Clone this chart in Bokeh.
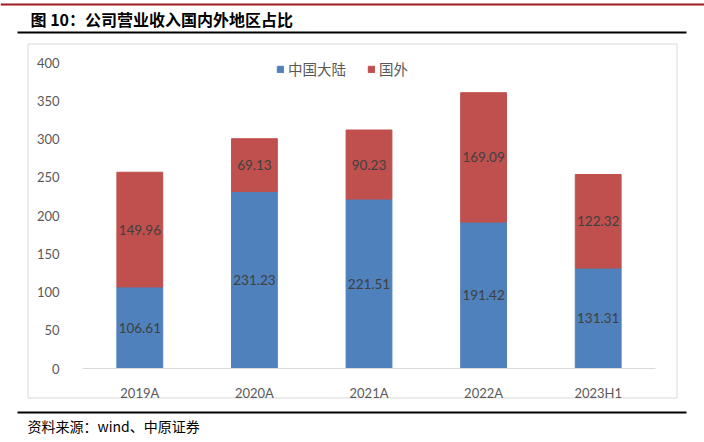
from bokeh.plotting import figure
from bokeh.models import ColumnDataSource, Legend, LegendItem, Range1d, FixedTicker
from bokeh.core.properties import value
from bokeh.embed import file_html
from bokeh.resources import INLINE

categories = ["2019A", "2020A", "2021A", "2022A", "2023H1"]
mainland = [106.61, 231.23, 221.51, 191.42, 131.31]
overseas = [149.96, 69.13, 90.23, 169.09, 122.32]
y_ticks = [0, 50, 100, 150, 200, 250, 300, 350, 400]
series_names = ["中国大陆", "国外"]
title_text = "图 10：公司营业收入国内外地区占比"
source_text = "资料来源：wind、中原证券"

BLUE = "#4F81BD"
RED = "#C0504D"
W, H = 704, 442
FONT = "Lato"
CJK = "Noto Sans CJK SC"

# pixel layout of the plot area (page coordinates)
PX_LEFT, PX_RIGHT = 82.0, 655.0      # category axis extent
PX_ZERO, PX_400 = 368.0, 62.0        # y = 0 and y = 400
n = len(categories)
cat_w = (PX_RIGHT - PX_LEFT) / n
first_c = PX_LEFT + cat_w / 2
ppu = (PX_ZERO - PX_400) / 400.0

x_start = (0 - first_c) / cat_w
x_end = (W - first_c) / cat_w
y_start = -(H - PX_ZERO) / ppu
y_end = PX_ZERO / ppu

idx = list(range(n))
total = [a + b for a, b in zip(mainland, overseas)]
mid1 = [a / 2 for a in mainland]
mid2 = [a + b / 2 for a, b in zip(mainland, overseas)]
src = ColumnDataSource(dict(
    x=idx, mainland=mainland, overseas=overseas, total=total,
    mid1=mid1, mid2=mid2,
    lab1=[f"{v:.2f}" for v in mainland], lab2=[f"{v:.2f}" for v in overseas],
))

p = figure(width=W, height=H, x_range=Range1d(x_start, x_end), y_range=Range1d(y_start, y_end),
           output_backend="svg", toolbar_location=None, title=None,
           min_border=0, min_border_left=0, min_border_right=0,
           min_border_top=0, min_border_bottom=0)
p.outline_line_color = None
p.xgrid.grid_line_color = None
p.ygrid.grid_line_color = None
p.background_fill_color = "white"
p.border_fill_color = "white"

# page-pixel coordinate system for decorations
p.extra_x_ranges = {"px": Range1d(0, W)}
p.extra_y_ranges = {"px": Range1d(H, 0)}
PX = dict(x_range_name="px", y_range_name="px")

# decorations
p.quad(left=[0], right=[W], top=[3], bottom=[5], fill_color="#9E1B20", line_color=None, **PX)
p.text(x=[30], y=[18.5], text=[title_text], text_font=value(CJK), text_font_size="16px",
       text_font_style="bold", text_color="#000000", text_baseline="middle", **PX)
p.quad(left=[17], right=[686], top=[31], bottom=[33], fill_color="#000000", line_color=None, **PX)
p.quad(left=[27.5], right=[676.5], top=[43.5], bottom=[397.5], fill_alpha=0,
       line_color="#D9D9D9", line_width=1, **PX)
p.quad(left=[17], right=[686], top=[411], bottom=[413], fill_color="#000000", line_color=None, **PX)
p.text(x=[27], y=[425], text=[source_text], text_font=value(CJK), text_font_size="14px",
       text_color="#000000", text_baseline="middle", **PX)

# bars
r1 = p.vbar(x="x", width=0.4, bottom=0, top="mainland", source=src,
            fill_color=BLUE, line_color=BLUE)
r2 = p.vbar(x="x", width=0.4, bottom="mainland", top="total", source=src,
            fill_color=RED, line_color=RED)

for col, lab in (("mid1", "lab1"), ("mid2", "lab2")):
    p.text(x="x", y=col, text=lab, source=src, text_align="center", text_baseline="middle",
           text_font=value(FONT), text_font_size="13.5px", text_color="#404040")

ax = p.xaxis[0]
ax.fixed_location = 0
ax.bounds = (-0.5, n - 0.5)
ax.ticker = FixedTicker(ticks=idx)
ax.major_label_overrides = {i: c for i, c in zip(idx, categories)}
ax.axis_line_color = "#D9D9D9"
ax.axis_line_width = 1
ax.major_tick_line_color = None
ax.minor_tick_line_color = None
ax.major_label_text_color = "#595959"
ax.major_label_text_font = FONT
ax.major_label_text_font_size = "13px"
ax.major_label_standoff = 10

ay = p.yaxis[0]
ay.fixed_location = -0.5
ay.bounds = (0, 400)
ay.ticker = FixedTicker(ticks=y_ticks)
ay.axis_line_color = None
ay.major_tick_line_color = None
ay.minor_tick_line_color = None
ay.major_label_text_color = "#595959"
ay.major_label_text_font = FONT
ay.major_label_text_font_size = "13px"
ay.major_label_standoff = 17

legend = Legend(items=[LegendItem(label=series_names[0], renderers=[r1]),
                       LegendItem(label=series_names[1], renderers=[r2])],
                orientation="horizontal", location=(276, 363), padding=0, margin=0,
                spacing=21, label_standoff=4, glyph_width=8, glyph_height=8,
                label_text_font=CJK, label_text_font_size="14.5px", label_text_color="#595959",
                border_line_color=None, background_fill_alpha=0)
p.add_layout(legend)

open("out.html", "w").write(file_html(p, INLINE))
